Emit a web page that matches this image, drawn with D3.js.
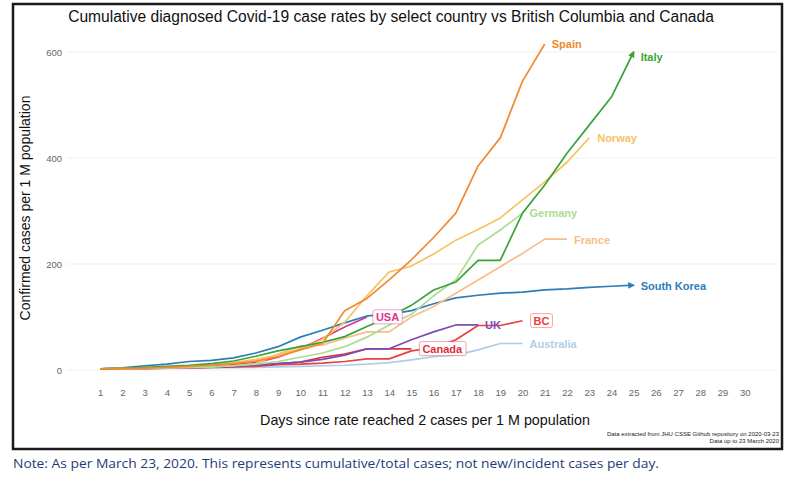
<!DOCTYPE html>
<html>
<head>
<meta charset="utf-8">
<script src="https://cdn.jsdelivr.net/npm/d3@7"></script>
<style>
body { margin: 0; background: #fff; }
text { font-family: "Liberation Sans", Arial, sans-serif; }
</style>
</head>
<body>
<svg id="chart" width="806" height="487"></svg>
<script>
// values, day 1 = first day at 2 cases per 1M
const countries = ["Australia", "Canada", "BC", "UK", "USA", "South Korea", "France", "Germany", "Norway", "Italy", "Spain"];
const spain = [2, 2.5, 3.5, 5, 7, 9, 12, 17, 25, 38, 50, 112, 135, 170, 208, 250, 296, 385, 438, 545, 615];
const italy = [2, 3, 5, 7, 9, 12, 17, 26, 36, 44, 52, 63, 82, 100, 122, 151, 166, 207, 207, 296, 349, 409, 462, 515, 600];
const norway = [2, 2.5, 3.5, 5, 7, 10, 14, 20, 28, 40, 58, 90, 140, 185, 196, 219, 245, 265, 287, 321, 355, 392, 438];
const germany = [2, 2.5, 3, 4, 5, 6, 8, 11, 16, 24, 32, 44, 62, 85, 105, 140, 170, 236, 264, 296];
const france = [2, 2.5, 3, 4, 5, 6, 8, 12, 30, 45, 47, 60, 72, 72, 100, 120, 145, 170, 195, 220, 247, 247];
const southKorea = [2, 4, 8, 11, 16, 18, 23, 32, 44, 62, 75, 89, 102, 105, 112, 125, 136, 141, 145, 147, 151, 153, 156, 158, 160];
const usa = [2, 2.5, 3, 4, 5, 7, 10, 14, 24, 40, 60, 81, 100];
const uk = [2, 2.5, 3, 3.5, 4.5, 5.5, 7, 9, 12, 15, 20, 28, 40, 40, 57, 72, 85, 85];
const bc = [2, 2.5, 3, 3.5, 4, 5, 6, 7, 10, 11, 13, 16, 21, 21, 36, 42, 57, 84, 84, 93];
const canada = [2, 2.5, 3, 4, 5, 6, 7, 9, 12, 15, 24, 30, 40, 40, 40];
const australia = [2, 2, 2.5, 3, 3.5, 4, 4.5, 5, 6, 7, 8, 9, 11, 14, 19, 25, 28, 38, 50, 50];
const dayTicks = d3.range(1, 31);
const yTicks = [0, 200, 400, 600];

const valuesByName = {
	"Spain": spain, "Italy": italy, "Norway": norway, "Germany": germany, "France": france,
	"South Korea": southKorea, "USA": usa, "UK": uk, "BC": bc, "Canada": canada, "Australia": australia
};

const colors = {
	"Spain": "#ef8a2e", "Italy": "#3aa43a", "Norway": "#f6c35f", "Germany": "#abdc93",
	"France": "#f8bd88", "South Korea": "#2c7db8", "USA": "#e0338c", "UK": "#7b4db2",
	"BC": "#e8413f", "Canada": "#d9303a", "Australia": "#b0cde7"
};

// label placement relative to the last point
const labelOpts = {
	"Spain": {dx: 7, dy: 0}, "Italy": {dx: 7, dy: 5}, "Norway": {dx: 8, dy: 0},
	"Germany": {dx: 7, dy: 0}, "France": {dx: 7, dy: 1}, "South Korea": {dx: 7, dy: 1},
	"USA": {dx: 6, dy: 0, box: true}, "UK": {dx: 7, dy: 0}, "BC": {dx: 8, dy: 0, box: true},
	"Canada": {dx: 8, dy: 0, box: true}, "Australia": {dx: 7, dy: 1}
};
const arrows = ["Italy", "South Korea"];

const series = countries.map(name => ({
	name: name,
	points: valuesByName[name].map((v, i) => ({day: i + 1, value: v}))
}));

const svg = d3.select('#chart');

const x = d3.scaleLinear().domain([-0.45, 31.45]).range([68, 777]);
const y = d3.scaleLinear().domain([0, 600]).range([370, 52]);

// frame
svg.append('rect')
	.attr('x', 13).attr('y', 4).attr('width', 769).attr('height', 445)
	.attr('fill', '#fff').attr('stroke', '#1a1a1a').attr('stroke-width', 2.5);

// grid
svg.append('g').selectAll('line')
	.data(yTicks)
	.enter().append('line')
	.attr('x1', x.range()[0]).attr('x2', x.range()[1])
	.attr('y1', d => y(d)).attr('y2', d => y(d))
	.attr('stroke', '#efefef').attr('stroke-width', 1);

const xAxis = d3.axisBottom(x).tickValues(dayTicks).tickSize(0).tickPadding(4);
const yAxis = d3.axisLeft(y).tickValues(yTicks).tickSize(0).tickPadding(2);

svg.append('g')
	.attr('class', 'axis x-axis')
	.attr('transform', 'translate(0, 385)')
	.call(xAxis);

svg.append('g')
	.attr('class', 'axis y-axis')
	.attr('transform', 'translate(64, 0)')
	.call(yAxis);

svg.selectAll('.axis .domain').remove();
svg.selectAll('.axis text')
	.attr('fill', '#666')
	.style('font-size', '9.5px')
	.style('font-family', '"Liberation Sans", Arial, sans-serif');

// arrow markers
const defs = svg.append('defs');
arrows.forEach(name => {
	defs.append('marker')
		.attr('id', 'arrow-' + name.replace(' ', ''))
		.attr('viewBox', '0 0 10 10')
		.attr('refX', 8).attr('refY', 5)
		.attr('markerWidth', 4).attr('markerHeight', 4)
		.attr('orient', 'auto')
		.append('path')
		.attr('d', 'M0,0 L10,5 L0,10 z')
		.attr('fill', colors[name]);
});

const line = d3.line()
	.x(d => x(d.day))
	.y(d => y(d.value));

svg.append('g').selectAll('path')
	.data(series)
	.enter().append('path')
	.attr('d', d => line(d.points))
	.attr('fill', 'none')
	.attr('stroke', d => colors[d.name])
	.attr('stroke-width', 1.7)
	.attr('stroke-linejoin', 'round')
	.attr('marker-end', d => arrows.includes(d.name) ? 'url(#arrow-' + d.name.replace(' ', '') + ')' : null);

// end labels
const labels = svg.append('g');
series.forEach(s => {
	const last = s.points[s.points.length - 1];
	const o = labelOpts[s.name];
	const lx = x(last.day) + o.dx + (o.box ? 3 : 0);
	const ly = y(last.value) + o.dy;
	const g = labels.append('g');
	const t = g.append('text')
		.attr('x', lx).attr('y', ly)
		.attr('dy', '0.35em')
		.attr('fill', colors[s.name])
		.style('font-size', '11px')
		.style('font-weight', 'bold')
		.text(s.name);
	if (o.box) {
		const b = t.node().getBBox();
		g.insert('rect', 'text')
			.attr('x', b.x - 3).attr('y', b.y - 1)
			.attr('width', b.width + 6).attr('height', b.height + 2)
			.attr('rx', 2)
			.attr('fill', '#fff')
			.attr('stroke', colors[s.name])
			.attr('stroke-opacity', 0.45)
			.attr('stroke-width', 1);
	}
});

// titles
svg.append('text')
	.attr('x', 391).attr('y', 22)
	.attr('text-anchor', 'middle')
	.attr('fill', '#111')
	.style('font-size', '15.6px')
	.text('Cumulative diagnosed Covid-19 case rates by select country vs British Columbia and Canada');

svg.append('text')
	.attr('transform', 'translate(30, 208) rotate(-90)')
	.attr('text-anchor', 'middle')
	.attr('fill', '#111')
	.style('font-size', '14px')
	.text('Confirmed cases per 1 M population');

svg.append('text')
	.attr('x', 425).attr('y', 425)
	.attr('text-anchor', 'middle')
	.attr('fill', '#111')
	.style('font-size', '14.3px')
	.text('Days since rate reached 2 cases per 1 M population');

svg.append('text')
	.attr('x', 779).attr('y', 436)
	.attr('text-anchor', 'end')
	.attr('fill', '#222')
	.style('font-size', '6px')
	.text('Data extracted from JHU CSSE Github repository on 2020-03-23');

svg.append('text')
	.attr('x', 779).attr('y', 443)
	.attr('text-anchor', 'end')
	.attr('fill', '#222')
	.style('font-size', '6px')
	.text('Data up to 23 March 2020');

// note under the frame
svg.append('text')
	.attr('x', 13).attr('y', 468)
	.attr('fill', '#1f3b78')
	.attr('textLength', 646)
	.attr('lengthAdjust', 'spacingAndGlyphs')
	.style('font-size', '12.5px')
	.style('font-family', '"Open Sans", sans-serif')
	.text('Note: As per March 23, 2020. This represents cumulative/total cases; not new/incident cases per day.');
</script>
</body>
</html>
